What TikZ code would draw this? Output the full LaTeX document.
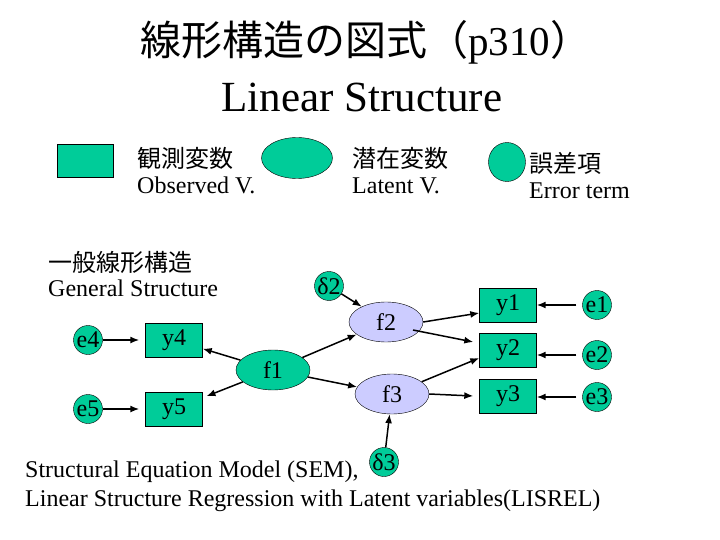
\documentclass[tikz,border=0pt]{standalone}
\usepackage{fontspec}
\setmainfont{Liberation Serif}
\newfontfamily\jafont{Noto Sans CJK JP}
\usetikzlibrary{shapes,arrows,arrows.meta}
\definecolor{semgreen}{RGB}{0,204,153}
\definecolor{semlav}{RGB}{204,204,255}
\tikzset{
  obs/.style={draw,fill=semgreen,minimum width=57pt,minimum height=34pt,inner sep=0pt,font=\fontsize{24}{24}\selectfont},
  lat/.style={ellipse,draw,fill=semlav,minimum width=74pt,minimum height=40pt,inner sep=0pt,font=\fontsize{24}{24}\selectfont},
  err/.style={circle,draw,fill=semgreen,minimum size=29pt,inner sep=0pt,font=\fontsize{24}{24}\selectfont},
  txt/.style={inner sep=0pt,font=\fontsize{24}{28}\selectfont},
  arr/.style={-{Latex[length=9pt,width=7pt]},line width=1.5pt}
}

\begin{document}
\begin{tikzpicture}[x=1pt,y=-1pt]
        \useasboundingbox (0,0) rectangle (720,540);
        % title
        \node[txt,font=\fontsize{41}{48}\selectfont,anchor=west] (title) at (140,42) {{\jafont 線形構造の図式（}p310{\jafont ）}};
        \node[txt,font=\fontsize{43}{48}\selectfont,anchor=base] (title2) at (362,112) {Linear Structure};
        % legend
        \node[obs,minimum width=56pt,minimum height=33pt] (legobs) at (85,161) {};
        \node[txt,anchor=west] (legobsja) at (137,158) {\jafont 観測変数};
        \node[txt,anchor=base west] (legobsen) at (137,194) {Observed V.};
        \node[lat,fill=semgreen,minimum width=71pt,minimum height=41pt] (leglat) at (297,158) {};
        \node[txt,anchor=west] (leglatja) at (352,158) {\jafont 潜在変数};
        \node[txt,anchor=base west] (leglaten) at (352,194) {Latent V.};
        \node[err,ellipse,minimum width=37pt,minimum height=39pt] (legerr) at (507,162) {};
        \node[txt,anchor=west] (legerrja) at (529,163) {\jafont 誤差項};
        \node[txt,anchor=base west] (legerren) at (529,199) {Error term};
        \node[txt,anchor=west] (genja) at (48,262) {\jafont 一般線形構造};
        \node[txt,anchor=base west] (genen) at (48,296) {General Structure};
        % model
        \node[err] (e4) at (88,340) {e4};
        \node[err] (e5) at (88,409) {e5};
        \node[obs] (y4) at (174,340) {y4};
        \node[obs] (y5) at (174,409) {y5};
        \node[lat,fill=semgreen] (f1) at (273,370) {f1};
        \node[lat] (f2) at (386,322) {f2};
        \node[lat] (f3) at (392,394) {f3};
        \node[err] (d2) at (329,286) {δ2};
        \node[err] (d3) at (384,462) {δ3};
        \node[obs] (y1) at (508,305) {y1};
        \node[obs] (y2) at (508,350) {y2};
        \node[obs] (y3) at (508,396) {y3};
        \node[err] (e1) at (597,305) {e1};
        \node[err] (e2) at (597,355) {e2};
        \node[err] (e3) at (597,397) {e3};
        \draw[arr,shorten >=6pt] (e4) -- (y4);
        \draw[arr,shorten >=6pt] (e5) -- (y5);
        \draw[arr] (f1) -- (y4);
        \draw[arr,shorten >=4pt] (f1) -- (y5);
        \draw[arr] (f1) -- (f2);
        \draw[arr] (f1) -- (f3);
        \draw[arr] (d2) -- (f2);
        \draw[arr] (d3) -- (f3);
        \draw[arr] (f2.east) -- ([yshift=-8pt]y1.west);
        \draw[arr] ([xshift=27pt,yshift=-8pt]f2.center) -- ([xshift=-6pt,yshift=8pt]y2.west);
        \draw[arr] (f3) -- ([yshift=-8pt]y2.west);
        \draw[arr] (f3.east) -- ([xshift=-6pt]y3.west);
        \draw[arr,shorten <=6pt] (e1) -- (e1 -| y1.east);
        \draw[arr,shorten <=6pt] (e2) -- (e2 -| y2.east);
        \draw[arr,shorten <=6pt] (e3) -- (e3 -| y3.east);
        % footer
        \node[txt,anchor=base west] (sem) at (25,477) {Structural Equation Model (SEM),};
        \node[txt,anchor=base west] (lisrel) at (25,506) {Linear Structure Regression with Latent variables(LISREL)};
\end{tikzpicture}
\end{document}
